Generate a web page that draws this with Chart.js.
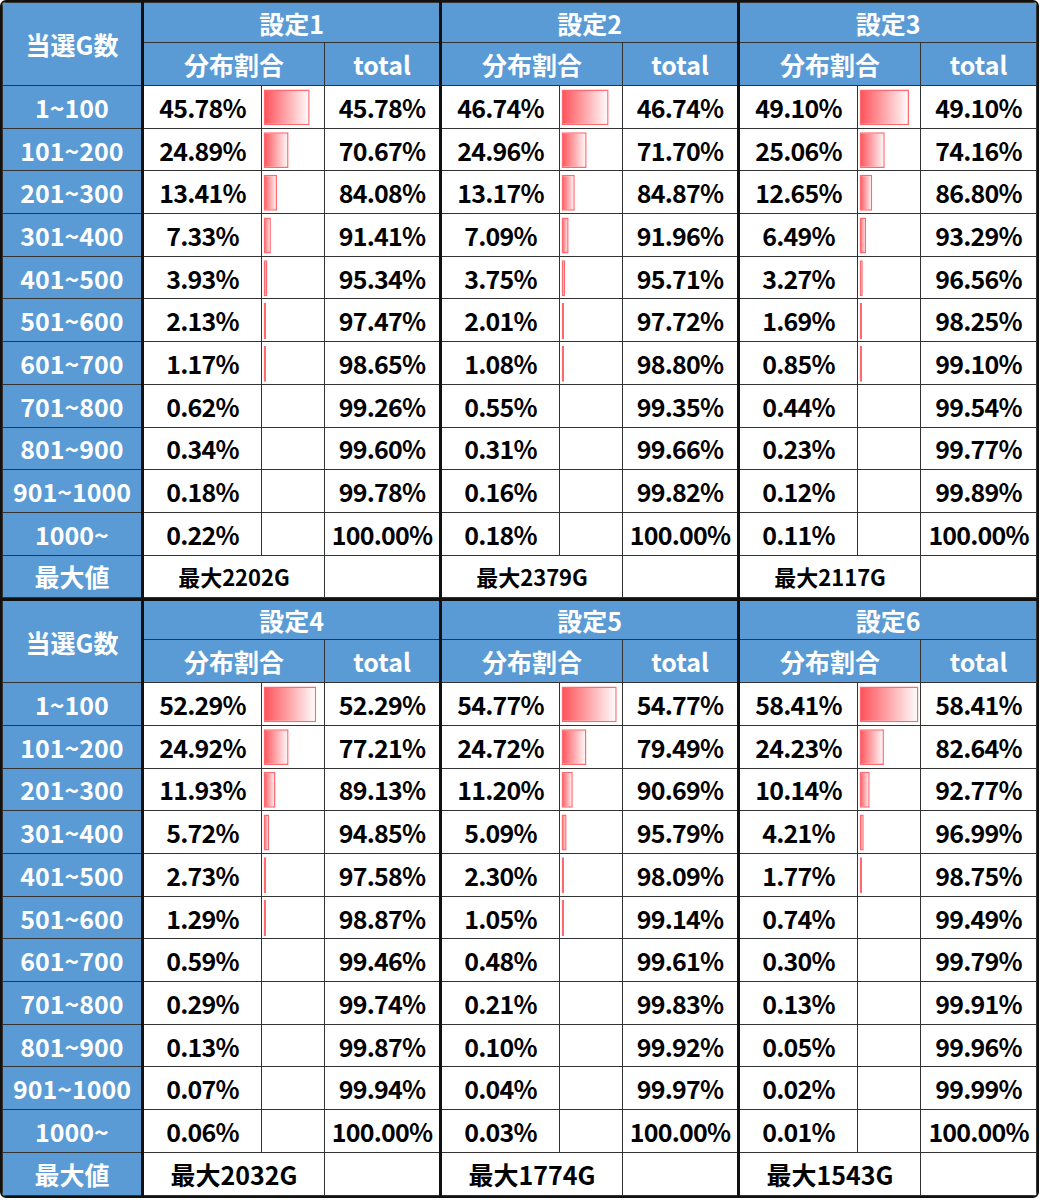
<!DOCTYPE html>
<html>
<head>
<meta charset="utf-8">
<script src="https://cdn.jsdelivr.net/npm/chart.js@4"></script>
<style>
  html, body { margin: 0; padding: 0; background: #fff; }
  body { font-family: 'Noto Sans CJK JP', 'Noto Sans', sans-serif; }
  #wrap {
    position: absolute; left: 0; top: 0;
    width: 1035px;
    border: 2.5px solid #111;
    border-radius: 6px;
    overflow: hidden;
  }
  table {
    border-collapse: collapse;
    table-layout: fixed;
    width: 1035px;
  }
  th, td {
    padding: 0;
    text-align: center;
    vertical-align: middle;
    white-space: nowrap;
    overflow: hidden;
    border: 1.5px solid #333;
  }
  th {
    background: #5B9BD5;
    color: #fff;
    font-weight: 700;
    font-size: 25px;
  }
  td {
    background: #fff;
    color: #000;
    font-weight: 700;
    font-size: 25px;
    letter-spacing: -0.8px;
  }
  tr.h1 { height: 40px; }
  tr.h2 { height: 43px; }
  tr.d  { height: 42.7px; }
  .blk  { border-left: 3px solid #111; }
  th.lbl { border-right: 3px solid #111; }
  td.max { font-size: 22px; letter-spacing: 0; }
  table.bottom td.max { font-size: 25px; }
  table.bottom tr.h1 th { border-top: 3px solid #111; }
  .bars { position: absolute; pointer-events: none; }
</style>
</head>
<body>
<div id="wrap"></div>
<script>
// ── Data ─────────────────────────────────────────────────
const ranges   = ['1~100','101~200','201~300','301~400','401~500','501~600',
                  '601~700','701~800','801~900','901~1000','1000~'];
const settings = ['設定1','設定2','設定3','設定4','設定5','設定6'];

const rate1 = [45.78, 24.89, 13.41, 7.33, 3.93, 2.13, 1.17, 0.62, 0.34, 0.18, 0.22];
const rate2 = [46.74, 24.96, 13.17, 7.09, 3.75, 2.01, 1.08, 0.55, 0.31, 0.16, 0.18];
const rate3 = [49.10, 25.06, 12.65, 6.49, 3.27, 1.69, 0.85, 0.44, 0.23, 0.12, 0.11];
const rate4 = [52.29, 24.92, 11.93, 5.72, 2.73, 1.29, 0.59, 0.29, 0.13, 0.07, 0.06];
const rate5 = [54.77, 24.72, 11.20, 5.09, 2.30, 1.05, 0.48, 0.21, 0.10, 0.04, 0.03];
const rate6 = [58.41, 24.23, 10.14, 4.21, 1.77, 0.74, 0.30, 0.13, 0.05, 0.02, 0.01];

const total1 = [45.78, 70.67, 84.08, 91.41, 95.34, 97.47, 98.65, 99.26, 99.60, 99.78, 100.00];
const total2 = [46.74, 71.70, 84.87, 91.96, 95.71, 97.72, 98.80, 99.35, 99.66, 99.82, 100.00];
const total3 = [49.10, 74.16, 86.80, 93.29, 96.56, 98.25, 99.10, 99.54, 99.77, 99.89, 100.00];
const total4 = [52.29, 77.21, 89.13, 94.85, 97.58, 98.87, 99.46, 99.74, 99.87, 99.94, 100.00];
const total5 = [54.77, 79.49, 90.69, 95.79, 98.09, 99.14, 99.61, 99.83, 99.92, 99.97, 100.00];
const total6 = [58.41, 82.64, 92.77, 96.99, 98.75, 99.49, 99.79, 99.91, 99.96, 99.99, 100.00];

const maxGames = [2202, 2379, 2117, 2032, 1774, 1543];

const rates  = [rate1, rate2, rate3, rate4, rate5, rate6];
const totals = [total1, total2, total3, total4, total5, total6];

const COLORS = {
  barStart:  '#FF4F57',
  barEnd:    '#FFFFFF',
  barBorder: '#FF6A70'
};

// data bars shorter than about 0.8% are too thin to show up in the sheet
const BAR_CUTOFF = 0.8;

const pct = v => v.toFixed(2) + '%';

// ── Table (two halves of three settings) ─────────────────
const wrap = document.getElementById('wrap');

function buildHalf(first, cls) {
  const t = document.createElement('table');
  t.className = cls;
  let html = '<colgroup><col style="width:140px">';
  for (let b = 0; b < 3; b++) {
    html += '<col style="width:119px"><col style="width:63px"><col style="width:116px">';
  }
  html += '</colgroup>';

  html += '<tr class="h1"><th class="lbl" rowspan="2">当選G数</th>';
  for (let b = 0; b < 3; b++) {
    html += `<th class="blk" colspan="3">${settings[first + b]}</th>`;
  }
  html += '</tr><tr class="h2">';
  for (let b = 0; b < 3; b++) {
    html += '<th class="blk" colspan="2">分布割合</th><th>total</th>';
  }
  html += '</tr>';

  ranges.forEach((r, i) => {
    html += `<tr class="d"><th class="lbl">${r}</th>`;
    for (let b = 0; b < 3; b++) {
      const s = first + b;
      html += `<td class="blk">${pct(rates[s][i])}</td>` +
              `<td class="barcell" data-s="${s}" data-i="${i}"></td>` +
              `<td>${pct(totals[s][i])}</td>`;
    }
    html += '</tr>';
  });

  html += '<tr class="d"><th class="lbl">最大値</th>';
  for (let b = 0; b < 3; b++) {
    html += `<td class="blk max" colspan="2">最大${maxGames[first + b]}G</td><td></td>`;
  }
  html += '</tr>';
  t.innerHTML = html;
  wrap.appendChild(t);
}

buildHalf(0, 'top');
buildHalf(3, 'bottom');

// ── Data bars: one horizontal bar chart per setting ──────
const gradientFill = ctx => {
  if (ctx.raw < BAR_CUTOFF) return 'rgba(0,0,0,0)';
  const chart = ctx.chart;
  if (!chart.chartArea) return COLORS.barStart;
  const x  = chart.scales.x;
  const x0 = x.getPixelForValue(0);
  const x1 = Math.max(x.getPixelForValue(ctx.raw), x0 + 2.5);
  const g  = chart.ctx.createLinearGradient(x0, 0, x1, 0);
  g.addColorStop(0, COLORS.barStart);
  g.addColorStop(1, COLORS.barEnd);
  return g;
};

settings.forEach((name, s) => {
  const first = document.querySelector(`td.barcell[data-s="${s}"][data-i="0"]`).getBoundingClientRect();
  const last  = document.querySelector(`td.barcell[data-s="${s}"][data-i="${ranges.length - 1}"]`).getBoundingClientRect();

  const canvas = document.createElement('canvas');
  canvas.className = 'bars';
  const w = Math.round(first.width);
  const h = Math.round(last.bottom - first.top);
  canvas.style.left   = Math.round(first.left) + 'px';
  canvas.style.top    = Math.round(first.top) + 'px';
  canvas.style.width  = w + 'px';
  canvas.style.height = h + 'px';
  canvas.width  = w;
  canvas.height = h;
  document.body.appendChild(canvas);

  new Chart(canvas, {
    type: 'bar',
    data: {
      labels: ranges,
      datasets: [{
        label:              name,
        data:               rates[s],
        backgroundColor:    gradientFill,
        borderColor:        ctx => ctx.raw < BAR_CUTOFF ? 'rgba(0,0,0,0)' : COLORS.barBorder,
        borderWidth:        1.5,
        borderSkipped:      false,
        barPercentage:      0.84,
        categoryPercentage: 1,
        minBarLength:       2.5
      }]
    },
    options: {
      indexAxis:  'y',
      responsive: false,
      animation:  false,
      events:     [],
      layout: { padding: { left: 1.5, right: 1, top: 0, bottom: 0 } },
      plugins: {
        legend:  { display: false },
        tooltip: { enabled: false }
      },
      scales: {
        x: { display: false, min: 0, max: 60 },
        y: { display: false }
      }
    }
  });
});
</script>
</body>
</html>
